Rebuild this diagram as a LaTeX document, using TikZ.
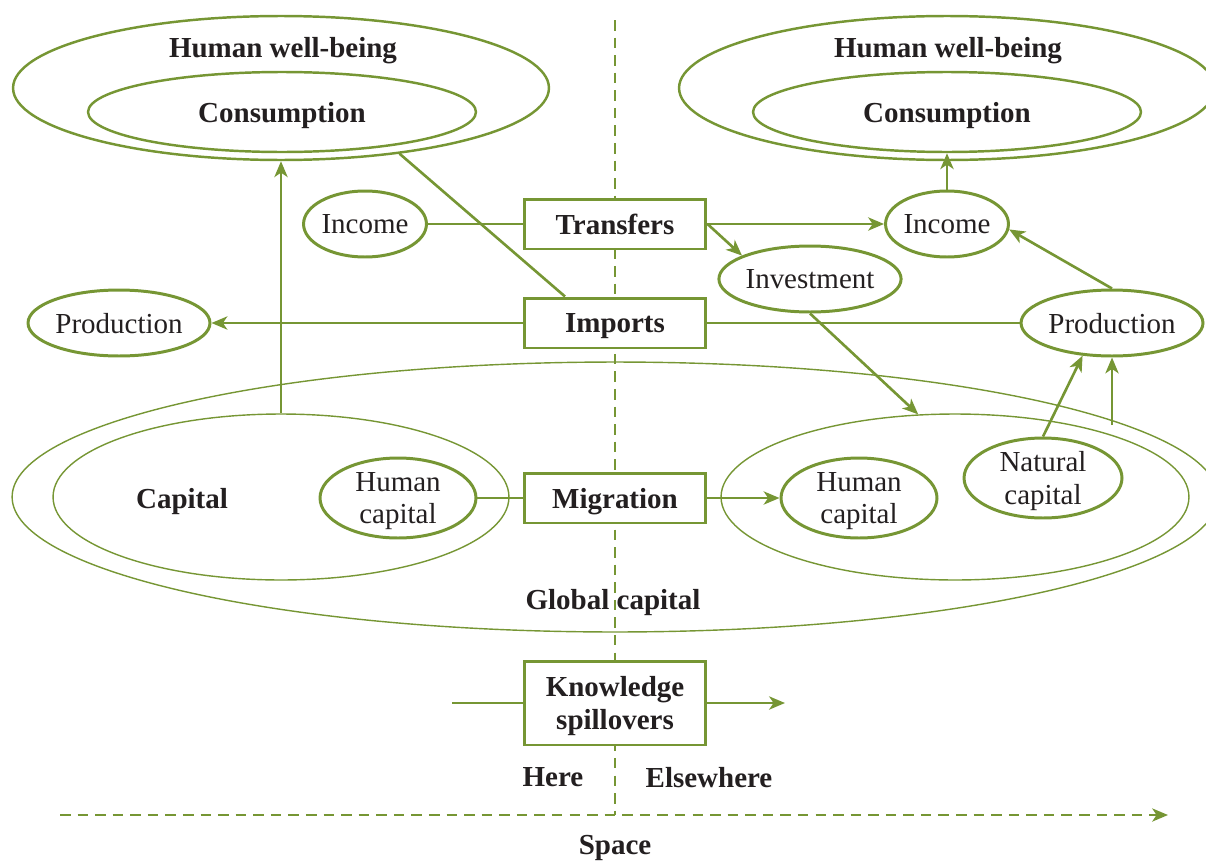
\documentclass[tikz,border=0pt]{standalone}
\usepackage{fontspec}
\setmainfont{Liberation Serif}
\usetikzlibrary{shapes.geometric,arrows.meta}
\definecolor{leaf}{RGB}{118,150,52}
\definecolor{ink}{RGB}{35,31,32}
\begin{document}
\begin{tikzpicture}[x=0.02cm,y=-0.02cm,
    font=\fontsize{16.5}{18.5}\selectfont, text=ink, text depth=0pt,
    >={Stealth[length=9pt,width=7.5pt,inset=2.5pt]},
    oval/.style={ellipse,draw=leaf,line width=1.7pt,inner sep=0pt,align=center},
    bigoval/.style={ellipse,draw=leaf,line width=1.4pt,inner sep=0pt},
    ring/.style={ellipse,draw=leaf,line width=0.8pt,inner sep=0pt},
    box/.style={rectangle,draw=leaf,fill=white,line width=1.7pt,minimum width=3.64cm,
      minimum height=1cm,align=center,font=\fontsize{16.5}{18.5}\selectfont\bfseries},
    link/.style={draw=leaf,line width=1.5pt},
    axis/.style={draw=leaf,line width=1.3pt,dash pattern=on 6pt off 4pt}]
  \useasboundingbox (0,0) rectangle (1206,862);
  % well-being, here and elsewhere
  \node[bigoval,minimum width=10.72cm,minimum height=2.88cm] (hwbl) at (281,88) {};
  \node[bigoval,minimum width=7.76cm,minimum height=1.6cm] (conl) at (282,112) {\textbf{Consumption}};
  \node (hwbtl) at (283,47) {\textbf{Human well-being}};
  \node[bigoval,minimum width=10.72cm,minimum height=2.88cm] (hwbr) at (947,88) {};
  \node[bigoval,minimum width=7.76cm,minimum height=1.6cm] (conr) at (947,112) {\textbf{Consumption}};
  \node (hwbtr) at (948,47) {\textbf{Human well-being}};
  \node[oval,minimum width=2.38cm,minimum height=1.32cm] (incl) at (365,224) {Income};
  \node[oval,minimum width=3.64cm,minimum height=1.32cm] (prodl) at (119,323) {Production};
  \node[oval,minimum width=2.38cm,minimum height=1.32cm] (incr) at (947,224) {Income};
  \node[oval,minimum width=3.56cm,minimum height=1.32cm] (inv) at (810,279) {Investment};
  \node[oval,minimum width=3.64cm,minimum height=1.32cm] (prodr) at (1112,323) {Production};
  % capital
  \node[ring,minimum width=24.12cm,minimum height=5.4cm] (glob) at (615,497) {};
  \node (globt) at (613,599) {\textbf{Global capital}};
  \node[ring,minimum width=9.12cm,minimum height=3.32cm] (capl) at (281,497) {};
  \node (capt) at (182,498) {\textbf{Capital}};
  \node[oval,minimum width=3.12cm,minimum height=1.6cm] (hcl) at (398,498) {Human\\capital};
  \node[ring,minimum width=9.36cm,minimum height=3.32cm] (capr) at (955,497) {};
  \node[oval,minimum width=3.12cm,minimum height=1.6cm] (hcr) at (859,498) {Human\\capital};
  \node[oval,minimum width=3.16cm,minimum height=1.6cm] (natr) at (1043,478) {Natural\\capital};
  % space axis
  \coordinate (top) at (615,20);
  \coordinate (orig) at (615,815);
  \coordinate (sl) at (60,815);
  \coordinate (sr) at (1168,815);
  \draw[axis] (top) -- (orig);
  \draw[axis,->] (sl) -- (sr);
  \node (here) at (553,777) {\textbf{Here}};
  \node (else) at (709,777) {\textbf{Elsewhere}};
  \node (space) at (615,845) {\textbf{Space}};
  % flows
  \node[box] (tr) at (615,224) {Transfers};
  \node[box] (im) at (615,323) {Imports};
  \node[box] (mig) at (615,498) {Migration};
  \node[box,minimum height=1.68cm] (ks) at (615,703) {Knowledge\\spillovers};
  \coordinate (ksl) at (452,703);
  \coordinate (ksr) at (785,703);
  \draw[link,->] (capl.north) -- (hwbl.south);
  \draw[link] (hwbl.-29.6) -- ([xshift=-1cm]im.north);
  \draw[link] (incl) -- (tr);
  \draw[link,->] (im) -- (prodl);
  \draw[link] (hcl) -- (mig);
  \draw[link,->] (tr) -- (incr);
  \draw[link,->] (tr.east) -- (inv.161);
  \draw[link] (im) -- (prodr);
  \draw[link,->] (inv.south) -- (capr.114.5);
  \draw[link,->] (mig) -- (hcr);
  \draw[link,->] (natr.north) -- (prodr.228.7);
  \draw[link,->] (prodr.south |- glob.8.7) -- (prodr.south);
  \draw[link,->] (prodr.north) -- (incr.-5);
  \draw[link,->] (incr) -- (conr);
  \draw[link] (ksl) -- (ks);
  \draw[link,->] (ks) -- (ksr);
\end{tikzpicture}
\end{document}
